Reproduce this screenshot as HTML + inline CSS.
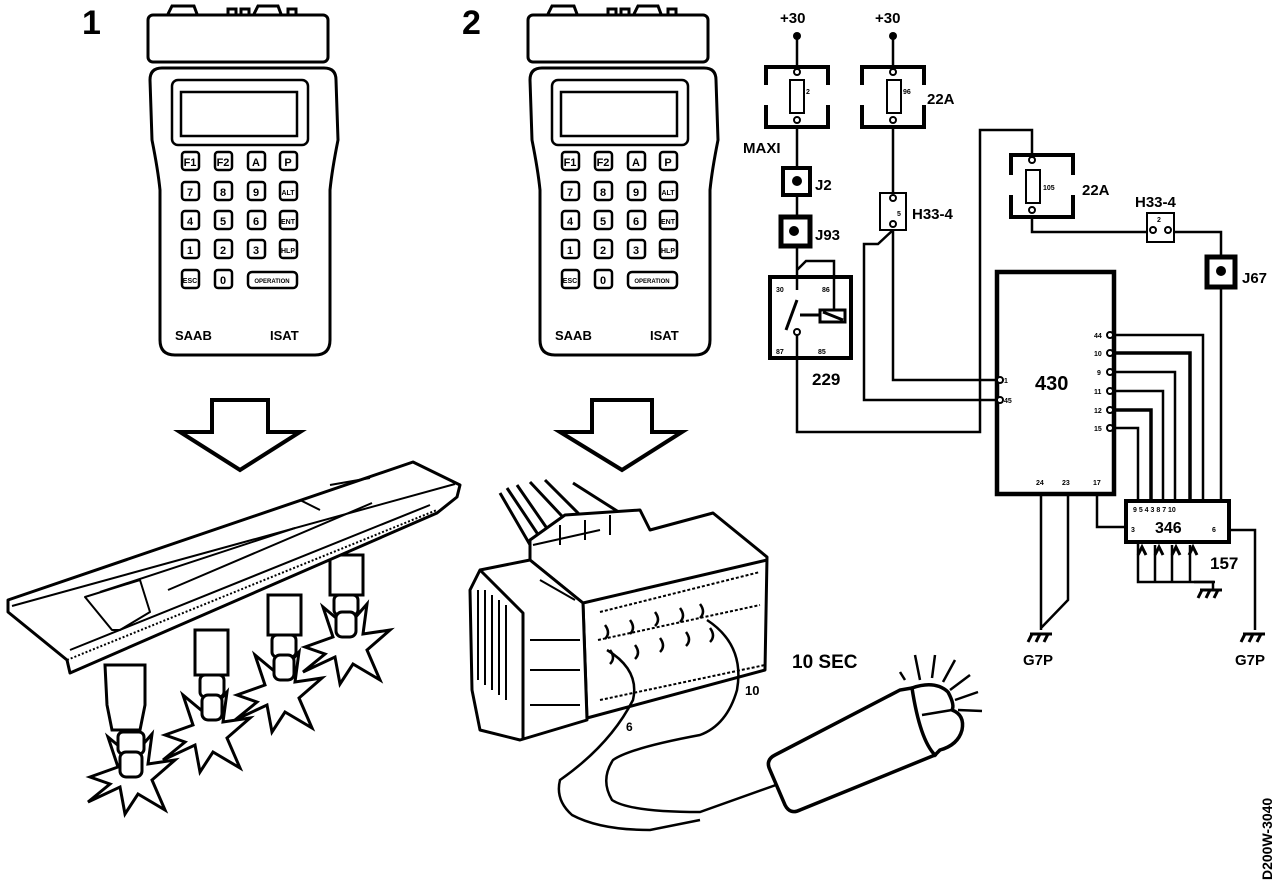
<!DOCTYPE html>
<html><head><meta charset="utf-8"><style>
html,body{margin:0;padding:0;background:#fff}
svg{display:block}
text{font-family:"Liberation Sans",Arial,sans-serif;font-weight:bold;fill:#000}
</style></head><body>
<svg width="1280" height="882" viewBox="0 0 1280 882" xmlns="http://www.w3.org/2000/svg">
<defs>
<g id="dev" fill="none" stroke="#000" stroke-width="3">
  <path d="M168 14 l4 -8 h22 l3 8 M228 14 v-5 h8 v5 M241 14 v-5 h8 v5 M254 14 l4 -8 h20 l3 8 M288 14 v-5 h8 v5"/>
  <rect x="148" y="15" width="180" height="47" rx="5"/>
  <path d="M162 68 Q150 68 150 80 L152 140 Q158 170 160 190 L160 340 Q160 355 175 355 L315 355 Q330 355 330 340 L330 190 Q332 170 338 140 L336 80 Q336 68 324 68 Z"/>
  <rect x="172" y="80" width="136" height="65" rx="6" stroke-width="2.5"/>
  <rect x="181" y="92" width="116" height="44" stroke-width="2.5"/>
  <g stroke-width="2.5">
    <rect x="182" y="152" width="17" height="18" rx="3"/><rect x="215" y="152" width="17" height="18" rx="3"/><rect x="248" y="152" width="17" height="18" rx="3"/><rect x="280" y="152" width="17" height="18" rx="3"/>
    <rect x="182" y="182" width="17" height="18" rx="3"/><rect x="215" y="182" width="17" height="18" rx="3"/><rect x="248" y="182" width="17" height="18" rx="3"/><rect x="280" y="182" width="17" height="18" rx="3"/>
    <rect x="182" y="211" width="17" height="18" rx="3"/><rect x="215" y="211" width="17" height="18" rx="3"/><rect x="248" y="211" width="17" height="18" rx="3"/><rect x="280" y="211" width="17" height="18" rx="3"/>
    <rect x="182" y="240" width="17" height="18" rx="3"/><rect x="215" y="240" width="17" height="18" rx="3"/><rect x="248" y="240" width="17" height="18" rx="3"/><rect x="280" y="240" width="17" height="18" rx="3"/>
    <rect x="182" y="270" width="17" height="18" rx="3"/><rect x="215" y="270" width="17" height="18" rx="3"/><rect x="248" y="272" width="49" height="16" rx="4"/>
  </g>
</g>
<g id="star"><path d="M-40 5 L-12 -5 L-22 -35 L2 -15 L22 -38 L18 -8 L45 -12 L22 8 L35 38 L8 22 L-5 42 L-10 15 L-42 30 L-20 12 Z" fill="#fff" stroke="#000" stroke-width="3"/></g>
</defs>
<text x="82" y="34" font-size="34">1</text>
<text x="462" y="34" font-size="34">2</text>
<use href="#dev"/>
<use href="#dev" x="380"/>
<g font-size="11" text-anchor="middle">
<text x="190" y="166">F1</text><text x="223" y="166">F2</text><text x="256" y="166">A</text><text x="288" y="166">P</text>
<text x="190" y="196">7</text><text x="223" y="196">8</text><text x="256" y="196">9</text><text x="288" y="195" font-size="7">ALT</text>
<text x="190" y="225">4</text><text x="223" y="225">5</text><text x="256" y="225">6</text><text x="288" y="224" font-size="7">ENT</text>
<text x="190" y="254">1</text><text x="223" y="254">2</text><text x="256" y="254">3</text><text x="288" y="253" font-size="7">HLP</text>
<text x="190" y="283" font-size="7">ESC</text><text x="223" y="284">0</text><text x="272" y="283" font-size="6">OPERATION</text>
<text x="570" y="166">F1</text><text x="603" y="166">F2</text><text x="636" y="166">A</text><text x="668" y="166">P</text>
<text x="570" y="196">7</text><text x="603" y="196">8</text><text x="636" y="196">9</text><text x="668" y="195" font-size="7">ALT</text>
<text x="570" y="225">4</text><text x="603" y="225">5</text><text x="636" y="225">6</text><text x="668" y="224" font-size="7">ENT</text>
<text x="570" y="254">1</text><text x="603" y="254">2</text><text x="636" y="254">3</text><text x="668" y="253" font-size="7">HLP</text>
<text x="570" y="283" font-size="7">ESC</text><text x="603" y="284">0</text><text x="652" y="283" font-size="6">OPERATION</text>
</g>
<text x="175" y="340" font-size="13">SAAB</text><text x="270" y="340" font-size="13">ISAT</text>
<text x="555" y="340" font-size="13">SAAB</text><text x="650" y="340" font-size="13">ISAT</text>

<g fill="none" stroke="#000" stroke-width="4" stroke-linejoin="miter">
<path d="M212 400 H268 V432 H300 L240 470 L180 432 H212 Z"/>
<path d="M592 400 H652 V432 H682 L622 470 L560 432 H592 Z"/>
</g>

<!-- coils and stars (behind cassette) -->
<use href="#star" x="130" y="772"/>
<use href="#star" x="205" y="730"/>
<use href="#star" x="277" y="690"/>
<use href="#star" x="345" y="642"/>
<g fill="#fff" stroke="#000" stroke-width="3">
<path d="M105 665 h40 v40 l-5 25 h-28 l-5 -25 Z"/>
<rect x="118" y="732" width="26" height="22" rx="5"/><rect x="120" y="752" width="22" height="25" rx="6"/>
<path d="M195 630 h33 v45 h-33 Z"/>
<rect x="200" y="675" width="24" height="22" rx="5"/><rect x="202" y="695" width="20" height="25" rx="6"/>
<path d="M268 595 h33 v40 h-33 Z"/>
<rect x="272" y="635" width="24" height="22" rx="5"/><rect x="274" y="655" width="20" height="25" rx="6"/>
<path d="M330 555 h33 v40 h-33 Z"/>
<rect x="334" y="595" width="24" height="20" rx="5"/><rect x="336" y="612" width="20" height="25" rx="6"/>
</g>
<!-- cassette -->
<g fill="#fff" stroke="#000" stroke-width="3" stroke-linejoin="round">
<path d="M8 600 L413 462 L460 485 L457 497 L437 513 L70 673 L67 660 L8 612 Z"/>
<path d="M12 606 L455 484" fill="none" stroke-width="2"/>
<path d="M67 660 L437 510" fill="none" stroke-width="2" stroke-dasharray="2 2"/>
<path d="M70 650 L430 505" fill="none" stroke-width="2"/>
<path d="M85 597 L140 580 L150 612 L120 630 L112 630 Z" fill="none" stroke-width="2"/>
<path d="M100 592 L295 528 M168 590 L372 503 M300 500 L320 510 M330 485 L370 478" fill="none" stroke-width="2"/>
</g>

<!-- connector -->
<g fill="#fff" stroke="#000" stroke-width="3" stroke-linejoin="round">
<path d="M500 493 L533 550 M507 488 L545 545 M517 485 L555 540 M530 482 L575 530 M545 480 L590 525 M573 483 L647 530" fill="none"/>
<path d="M530 560 L530 540 L565 515 L640 510 L650 530 L713 513 L767 557 L765 670 L587 718 L583 603 Z"/>
<path d="M533 545 L600 530 M560 525 L560 545 M585 520 L585 540 M610 515 L610 535" fill="none" stroke-width="2"/>
<path d="M480 570 L470 590 L472 690 L480 730 L520 740 L587 720 L583 603 L530 560 Z"/>
<path d="M480 570 L523 613 L523 740" fill="none"/>
<path d="M478 590 v90 M485 590 v95 M492 595 v95 M499 600 v95 M506 605 v95" fill="none" stroke-width="2"/>
<path d="M583 603 L767 560" fill="none"/>
<path d="M600 612 L760 572 M598 640 L760 605 M600 700 L765 665" fill="none" stroke-width="2" stroke-dasharray="3 2"/>
<path d="M530 640 h50 M530 670 h50 M530 705 h50 M540 580 L575 600" fill="none" stroke-width="2"/>
<path d="M605 625 q6 8 0 14 M630 620 q6 8 0 14 M655 612 q6 8 0 14 M680 608 q6 8 0 14 M700 604 q6 8 0 14 M610 650 q6 8 0 14 M635 645 q6 8 0 14 M660 638 q6 8 0 14 M686 632 q6 8 0 14 M710 628 q6 8 0 14" fill="none" stroke-width="2.5"/>
</g>
<g fill="none" stroke="#000" stroke-width="2.5">
<path d="M607 650 Q640 670 633 700 Q610 745 560 780 Q555 800 572 815 Q600 830 650 830 L700 820"/>
<path d="M707 620 Q745 645 737 690 Q727 725 700 735 Q630 748 613 760 Q600 780 612 800 Q630 812 700 812 L790 780"/>
</g>
<text x="626" y="731" font-size="12">6</text>
<text x="745" y="695" font-size="13">10</text>
<text x="792" y="668" font-size="19">10 SEC</text>
<!-- bulb -->
<g fill="#fff" stroke="#000" stroke-width="3.5">
<path d="M770 770 Q765 760 775 755 L900 690 L912 688 L935 755 L800 810 Q790 815 785 805 Z"/>
<path d="M912 688 Q935 680 948 692 Q955 705 952 710 Q965 715 962 730 Q958 745 940 750 L935 755 Q920 740 912 688 Z"/>
<path d="M922 715 L952 710 M905 680 L900 672 M920 680 L915 655 M932 678 L935 655 M943 682 L955 660 M950 690 L970 675 M955 700 L978 692 M958 710 L982 711" fill="none" stroke-width="2.5"/>
</g>

<!-- schematic -->
<g fill="none" stroke="#000" stroke-width="2.5">
<path d="M797 35 V67 M797 127 V168 M797 195 V217 M797 246 V290"/>
<path d="M893 35 V67 M893 127 V195 M893 230 V380 H998"/>
<path d="M893 230 L878 244 H864 V400 H998"/>
<path d="M797 335 V432 H980 V130 H1032 V155"/>
<path d="M1032 217 V232 H1147 M1174 232 H1221 V257 M1221 287 V500"/>
<path d="M797 270 L806 261 H834 V310"/>
<path d="M1115 335 H1203 V500 M1115 372 H1175 V500 M1115 391 H1163 V500 M1115 428 H1138 V500"/>
<path d="M1115 353 H1190 V500 M1115 410 H1151 V500" stroke-width="3.5"/>
<path d="M1097 495 V527 H1125"/>
<path d="M1041 495 V630 M1068 495 V600 L1041 628"/>
<path d="M1230 530 H1255 V630"/>
<path d="M1138 543 V582 H1215 M1155 545 V582 M1172 545 V582 M1190 545 V582"/>
<path d="M1194 582 H1213 V590"/>
</g>
<g fill="#000">
<circle cx="797" cy="36" r="4"/><circle cx="893" cy="36" r="4"/>
<circle cx="797" cy="181" r="5"/><circle cx="794" cy="231" r="5"/><circle cx="1221" cy="271" r="5"/>
</g>
<g fill="none" stroke="#000" stroke-width="4">
<path d="M766 85 V67 H828 V85 M766 105 V127 H828 V105"/>
<path d="M862 85 V67 H924 V85 M862 105 V127 H924 V105"/>
<path d="M1011 175 V155 H1073 V175 M1011 195 V217 H1073 V195"/>
<rect x="783" y="168" width="27" height="27"/>
<rect x="781" y="217" width="29" height="29" stroke-width="5"/>
<rect x="770" y="277" width="81" height="81" stroke-width="4"/>
<rect x="1207" y="257" width="28" height="30" stroke-width="5"/>
<rect x="997" y="272" width="117" height="222" stroke-width="4.5"/>
<rect x="1126" y="501" width="103" height="41" stroke-width="4"/>
</g>
<g fill="#fff" stroke="#000" stroke-width="2">
<rect x="790" y="80" width="14" height="33"/><rect x="887" y="80" width="14" height="33"/><rect x="1026" y="170" width="14" height="33"/>
<rect x="880" y="193" width="26" height="37"/><rect x="1147" y="213" width="27" height="29"/>
<circle cx="797" cy="72" r="3"/><circle cx="797" cy="120" r="3"/><circle cx="893" cy="72" r="3"/><circle cx="893" cy="120" r="3"/>
<circle cx="1032" cy="160" r="3"/><circle cx="1032" cy="210" r="3"/><circle cx="893" cy="198" r="3"/><circle cx="893" cy="224" r="3"/>
<circle cx="1153" cy="230" r="3"/><circle cx="1168" cy="230" r="3"/>
<circle cx="797" cy="332" r="3"/><circle cx="1000" cy="380" r="3"/><circle cx="1000" cy="400" r="3"/>
<circle cx="1110" cy="335" r="3"/><circle cx="1110" cy="353" r="3"/><circle cx="1110" cy="372" r="3"/><circle cx="1110" cy="391" r="3"/><circle cx="1110" cy="410" r="3"/><circle cx="1110" cy="428" r="3"/>
</g>
<g stroke="#000" stroke-width="3" fill="none">
<path d="M786 330 L797 300 M800 315 h20 M820 310 h25 v12 h-25 Z M823 312 L843 320"/>
<path d="M1030 634 h22 M1032 634 l-4 8 M1040 634 l-4 8 M1048 634 l-4 8"/>
<path d="M1243 634 h22 M1245 634 l-4 8 M1253 634 l-4 8 M1261 634 l-4 8"/>
<path d="M1200 590 h22 M1202 590 l-4 8 M1210 590 l-4 8 M1218 590 l-4 8"/>
<path d="M1138 555 l4 -8 l4 8 M1155 555 l4 -8 l4 8 M1172 555 l4 -8 l4 8 M1189 555 l4 -8 l4 8"/>
</g>
<g font-size="15">
<text x="780" y="23">+30</text><text x="875" y="23">+30</text>
<text x="927" y="104">22A</text><text x="743" y="153">MAXI</text>
<text x="815" y="190">J2</text><text x="815" y="240">J93</text><text x="912" y="219">H33-4</text>
<text x="1082" y="195">22A</text><text x="1135" y="207">H33-4</text><text x="1242" y="283">J67</text>
<text x="812" y="385" font-size="17">229</text>
<text x="1035" y="390" font-size="20">430</text>
<text x="1155" y="533" font-size="16">346</text>
<text x="1210" y="569" font-size="17">157</text>
<text x="1023" y="665">G7P</text><text x="1235" y="665">G7P</text>
</g>
<g font-size="7">
<text x="806" y="94">2</text><text x="903" y="94">96</text><text x="1043" y="190">105</text>
<text x="897" y="216">5</text><text x="1157" y="222">2</text>
<text x="776" y="292">30</text><text x="822" y="292">86</text><text x="776" y="354">87</text><text x="818" y="354">85</text>
<text x="1004" y="383">1</text><text x="1004" y="403">45</text>
<text x="1094" y="338">44</text><text x="1094" y="356">10</text><text x="1097" y="375">9</text><text x="1094" y="394">11</text><text x="1094" y="413">12</text><text x="1094" y="431">15</text>
<text x="1036" y="485">24</text><text x="1062" y="485">23</text><text x="1093" y="485">17</text>
<text x="1133" y="512">9 5 4 3 8 7 10</text><text x="1131" y="532">3</text><text x="1212" y="532">6</text>
</g>
<text transform="translate(1272,880) rotate(-90)" font-size="14">D200W-3040</text>
</svg>
</body></html>
